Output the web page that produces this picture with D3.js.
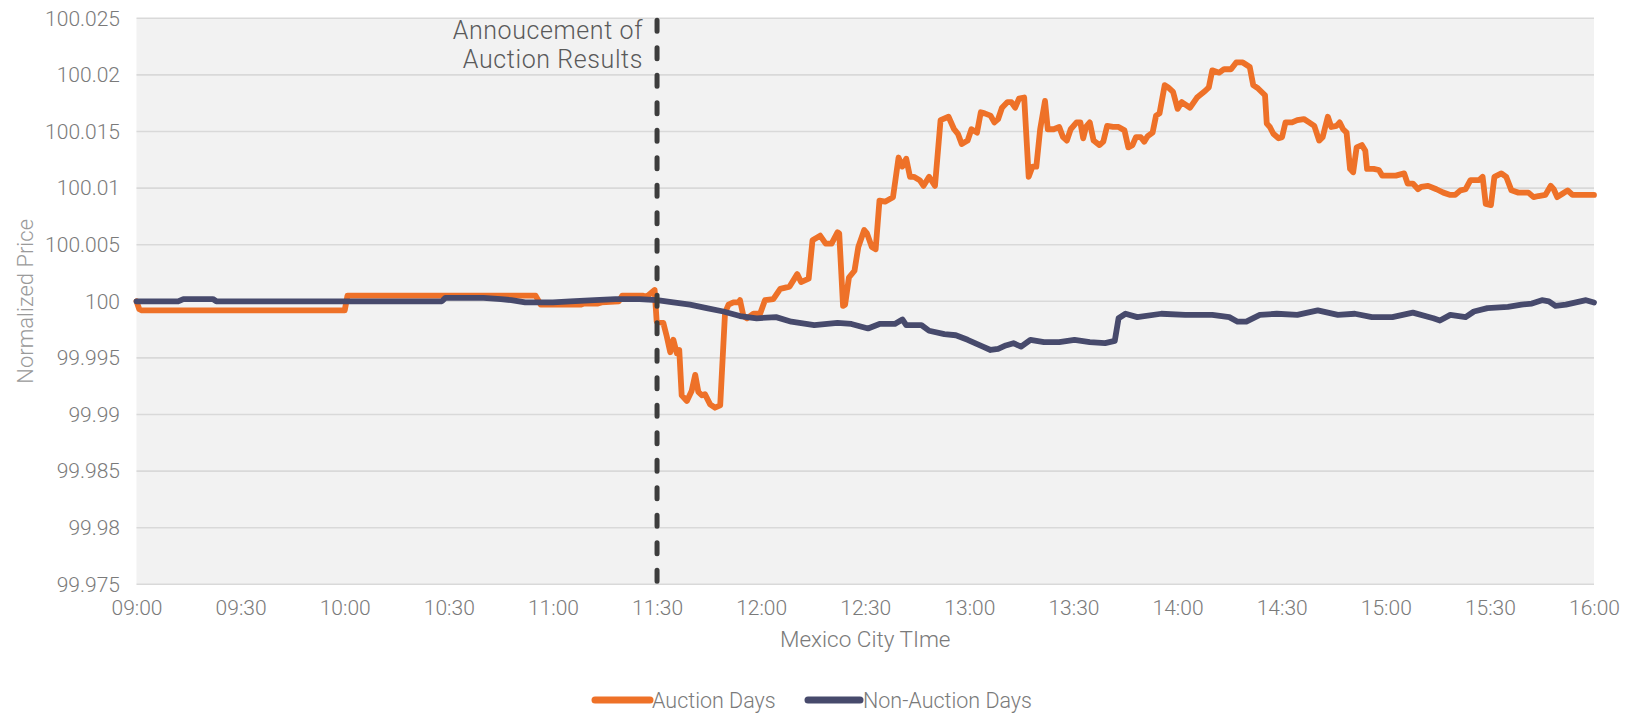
<!DOCTYPE html>
<html>
<head>
<meta charset="utf-8">
<script src="https://cdn.jsdelivr.net/npm/d3@7"></script>
<style>
  html, body { margin: 0; padding: 0; background: #ffffff; }
  svg { display: block; }
  text { font-family: Roboto, "Liberation Sans", Arial, sans-serif; font-weight: 300; }
</style>
</head>
<body>
<svg id="chart" width="1633" height="718"></svg>
<script>
// ---- Data (minutes after 09:00, normalized price) ----
const auctionMinutes = [0,0.8,1.5,60,60.8,115,116.5,128,129,133,134,139,140,146,147,149.3,149.9,151.8,152.8,153.8,154.7,155.7,156.4,157.1,158.6,160,161,161.9,162.9,163.8,165.3,166.7,168.2,169.6,170.6,172,173.4,173.9,174.9,175.9,177.8,179.7,181.1,183.5,185.5,188.2,190.4,191.5,193.7,194.8,197,198.6,200.3,202,202.5,203.6,204.2,205.3,206.9,208,209.7,210.5,211.9,213,214.1,215.7,218,219.6,220.7,221.8,222.9,224,225.7,226.8,228.4,230.1,231.7,234,235.6,236.7,237.8,239.5,240.6,242.2,243.3,244.4,246.1,247.2,248.3,249.4,251,252.1,253.2,254.3,255.8,257.1,258.2,259.3,260.4,261.8,262.6,264.3,265.9,267,268.1,269.2,270.9,272,272.8,273.6,274.7,275.8,277.5,278.6,279.7,281.4,283,284.7,285.8,287,288,289.4,290.4,291.4,292.8,293.8,294.8,296.3,297.3,298.7,300,301.2,303.6,305.6,308,309,310,312,313.4,315.4,316.9,318.8,320.8,321.8,323.2,325.2,325.7,326.6,327.6,329.1,330.1,331.1,333,334.5,336.4,337.9,339.4,340.8,341.8,343.3,344.3,345.8,346.7,347.7,348.7,349.7,350.6,351.6,353.1,354.1,354.6,356.5,358,359,361,362.9,365.3,366.3,367.8,369.3,370.2,372.2,374.6,376.6,378.6,380,381.5,383,384.4,386.9,387.9,388.8,390.3,391.3,393.3,394.7,396.2,398.2,401.1,402.6,404,406,407.5,408.4,409.4,410.9,412.4,413.8,420];
const auctionValues = [100.0000,99.9993,99.9992,99.9992,100.0005,100.0005,99.9997,99.9997,99.9998,99.9998,99.9999,100.0000,100.0005,100.0005,100.0004,100.0010,99.9982,99.9981,99.9969,99.9955,99.9966,99.9954,99.9957,99.9917,99.9912,99.9921,99.9935,99.9920,99.9917,99.9918,99.9909,99.9906,99.9908,99.9990,99.9997,99.9999,99.9999,100.0001,99.9987,99.9985,99.9989,99.9989,100.0001,100.0002,100.0011,100.0013,100.0024,100.0017,100.0020,100.0054,100.0058,100.0051,100.0051,100.0061,100.0060,99.9996,99.9997,100.0021,100.0027,100.0048,100.0063,100.0060,100.0048,100.0046,100.0089,100.0088,100.0092,100.0127,100.0119,100.0126,100.0110,100.0110,100.0107,100.0102,100.0110,100.0102,100.0160,100.0163,100.0152,100.0148,100.0139,100.0142,100.0152,100.0149,100.0167,100.0166,100.0164,100.0158,100.0161,100.0171,100.0176,100.0176,100.0171,100.0179,100.0180,100.0110,100.0119,100.0119,100.0152,100.0177,100.0152,100.0152,100.0154,100.0145,100.0142,100.0152,100.0158,100.0158,100.0144,100.0154,100.0158,100.0142,100.0138,100.0141,100.0155,100.0154,100.0154,100.0151,100.0136,100.0138,100.0145,100.0145,100.0141,100.0146,100.0149,100.0164,100.0166,100.0191,100.0189,100.0185,100.0170,100.0176,100.0171,100.0180,100.0186,100.0189,100.0204,100.0202,100.0205,100.0205,100.0211,100.0211,100.0207,100.0191,100.0188,100.0182,100.0157,100.0154,100.0148,100.0144,100.0145,100.0158,100.0158,100.0160,100.0161,100.0158,100.0155,100.0142,100.0145,100.0163,100.0154,100.0155,100.0158,100.0152,100.0149,100.0117,100.0114,100.0136,100.0138,100.0133,100.0117,100.0117,100.0116,100.0111,100.0111,100.0111,100.0113,100.0104,100.0104,100.0099,100.0101,100.0102,100.0099,100.0096,100.0094,100.0094,100.0098,100.0099,100.0107,100.0107,100.0110,100.0086,100.0085,100.0110,100.0113,100.0110,100.0098,100.0096,100.0096,100.0092,100.0093,100.0094,100.0102,100.0099,100.0092,100.0095,100.0098,100.0094,100.0094];

const nonAuctionMinutes = [0,12,13.5,22,23,88,89,100,105,108,112,120,125,132,138,145,150,154.7,159.5,164.3,169.1,173.9,178.7,184.3,188.7,195.3,202,206,210.8,214.1,218.5,220.7,221.8,226.2,228.4,232.8,236.1,239.5,243.9,246.1,248.3,250.5,252.7,254.9,257.6,261.5,265.9,270.3,274.7,279.1,281.9,283,285,288.4,295.3,302.2,310,314.9,317.3,319.8,323.7,328.6,334.5,340.4,346.2,351.1,356,361.9,367.8,373.7,375.6,378.6,383,385.4,389.3,395.2,399.1,402.1,405,407,408.9,411.9,414.8,417.7,420];
const nonAuctionValues = [100.0000,100.0000,100.0002,100.0002,100.0000,100.0000,100.0003,100.0003,100.0002,100.0001,99.9999,99.9999,100.0000,100.0001,100.0002,100.0002,100.0001,99.9999,99.9997,99.9994,99.9991,99.9987,99.9985,99.9986,99.9982,99.9979,99.9981,99.9980,99.9976,99.9980,99.9980,99.9984,99.9979,99.9979,99.9974,99.9971,99.9970,99.9966,99.9960,99.9957,99.9958,99.9961,99.9963,99.9960,99.9966,99.9964,99.9964,99.9966,99.9964,99.9963,99.9965,99.9985,99.9989,99.9986,99.9989,99.9988,99.9988,99.9986,99.9982,99.9982,99.9988,99.9989,99.9988,99.9992,99.9988,99.9989,99.9986,99.9986,99.9990,99.9985,99.9983,99.9988,99.9986,99.9991,99.9994,99.9995,99.9997,99.9998,100.0001,100.0000,99.9996,99.9997,99.9999,100.0001,99.9999];

const xTickMinutes = [0,30,60,90,120,150,180,210,240,270,300,330,360,390,420];
const xTickLabels = ["09:00","09:30","10:00","10:30","11:00","11:30","12:00","12:30","13:00","13:30","14:00","14:30","15:00","15:30","16:00"];
const yTickValues = [100.025,100.02,100.015,100.01,100.005,100,99.995,99.99,99.985,99.98,99.975];
const yTickLabels = ["100.025","100.02","100.015","100.01","100.005","100","99.995","99.99","99.985","99.98","99.975"];
const seriesNames = ["Auction Days","Non-Auction Days"];
const announcementMinute = 150;
const announcementLines = ["Annoucement of","Auction Results"];

// ---- Layout ----
const plot = { left: 136.5, right: 1594, top: 18.3, bottom: 584.3 };
const colors = { auction: "#ee7128", nonAuction: "#474a6c" };

const svg = d3.select("#chart");
const x = d3.scaleLinear().domain([0, 420]).range([plot.left, plot.right]);
const y = d3.scaleLinear().domain([99.975, 100.025]).range([plot.bottom, plot.top]);

// background
svg.append("rect")
  .attr("x", plot.left).attr("y", plot.top)
  .attr("width", plot.right - plot.left).attr("height", plot.bottom - plot.top)
  .attr("fill", "#f2f2f2");

// gridlines
svg.append("g").selectAll("line").data(yTickValues).join("line")
  .attr("x1", plot.left).attr("x2", plot.right)
  .attr("y1", d => y(d)).attr("y2", d => y(d))
  .attr("stroke", "#d9d9d9").attr("stroke-width", 1.6);

// y axis
const yAxis = d3.axisLeft(y).tickValues(yTickValues)
  .tickFormat((d, i) => yTickLabels[i]).tickSize(0).tickPadding(16.5);
const gy = svg.append("g").attr("transform", `translate(${plot.left},0)`).call(yAxis);
gy.select(".domain").remove();
gy.selectAll("text").attr("font-size", 21).attr("fill", "#7a7a7a")
  .style("font-family", 'Roboto, "Liberation Sans", Arial, sans-serif').style("font-weight", 300);

// x axis
const xAxis = d3.axisBottom(x).tickValues(xTickMinutes)
  .tickFormat((d, i) => xTickLabels[i]).tickSize(0).tickPadding(15.8);
const gx = svg.append("g").attr("transform", `translate(0,${plot.bottom})`).call(xAxis);
gx.select(".domain").remove();
gx.selectAll("text").attr("font-size", 21).attr("fill", "#7a7a7a")
  .style("font-family", 'Roboto, "Liberation Sans", Arial, sans-serif').style("font-weight", 300);

// axis titles
svg.append("text")
  .attr("transform", `translate(33,${(plot.top + plot.bottom) / 2}) rotate(-90)`)
  .attr("text-anchor", "middle").attr("font-size", 22).attr("fill", "#9a9a9a")
  .text("Normalized Price");
svg.append("text")
  .attr("x", (plot.left + plot.right) / 2).attr("y", 647)
  .attr("text-anchor", "middle").attr("font-size", 22.5).attr("fill", "#7a7a7a")
  .text("Mexico City TIme");

// series
const line = d3.line().x(d => x(d[0])).y(d => y(d[1])).curve(d3.curveLinear);
const auctionData = auctionMinutes.map((m, i) => [m, auctionValues[i]]);
const nonAuctionData = nonAuctionMinutes.map((m, i) => [m, nonAuctionValues[i]]);

svg.append("path").datum(auctionData).attr("d", line)
  .attr("fill", "none").attr("stroke", colors.auction).attr("stroke-width", 5.8)
  .attr("stroke-linejoin", "round").attr("stroke-linecap", "round");
svg.append("path").datum(nonAuctionData).attr("d", line)
  .attr("fill", "none").attr("stroke", colors.nonAuction).attr("stroke-width", 5.8)
  .attr("stroke-linejoin", "round").attr("stroke-linecap", "round");

// announcement line
svg.append("line")
  .attr("x1", x(announcementMinute)).attr("x2", x(announcementMinute))
  .attr("y1", plot.top + 2).attr("y2", plot.bottom - 2)
  .attr("stroke", "#3d3d3d").attr("stroke-width", 5)
  .attr("stroke-dasharray", "11 16.5").attr("stroke-linecap", "round");

svg.append("g").selectAll("text").data(announcementLines).join("text")
  .attr("x", x(announcementMinute) - 14)
  .attr("y", (d, i) => 38.5 + i * 29.5)
  .attr("text-anchor", "end").attr("font-size", 25).attr("letter-spacing", 0.6)
  .attr("fill", "#5a5a5a")
  .text(d => d);

// legend
const legendItems = [
  { name: seriesNames[0], color: colors.auction, x0: 595, x1: 650, tx: 652 },
  { name: seriesNames[1], color: colors.nonAuction, x0: 808, x1: 860, tx: 863 }
];
const lg = svg.append("g");
legendItems.forEach(it => {
  lg.append("line").attr("x1", it.x0).attr("x2", it.x1).attr("y1", 700).attr("y2", 700)
    .attr("stroke", it.color).attr("stroke-width", 7).attr("stroke-linecap", "round");
  lg.append("text").attr("x", it.tx).attr("y", 708).attr("font-size", 21.5)
    .attr("fill", "#7a7a7a").text(it.name);
});
</script>
</body>
</html>
